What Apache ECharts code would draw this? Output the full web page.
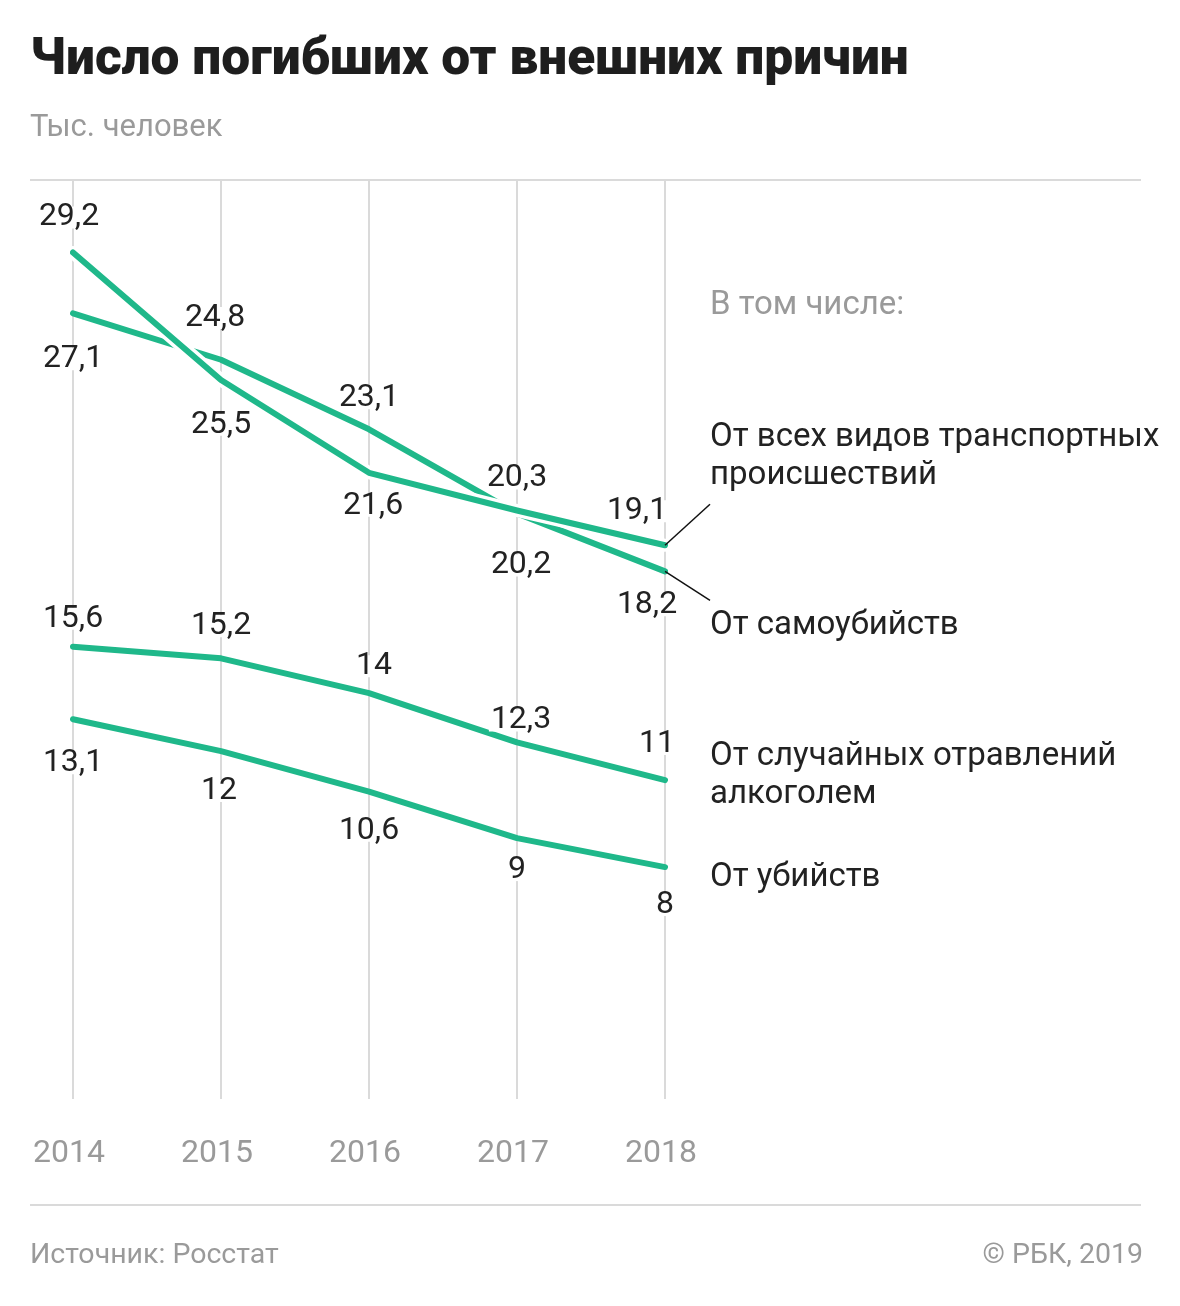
<!DOCTYPE html>
<html><head><meta charset="utf-8">
<script src="https://cdn.jsdelivr.net/npm/echarts@6/dist/echarts.min.js"></script>
<style>html,body{margin:0;padding:0;background:#fff}#c{width:1180px;height:1306px}</style>
</head><body><div id="c"></div>
<script>
// ---- data ----
const years = ['2014', '2015', '2016', '2017', '2018'];
const transport = [29.2, 24.8, 21.6, 20.3, 19.1];
const suicide = [27.1, 25.5, 23.1, 20.2, 18.2];
const alcohol = [15.6, 15.2, 14, 12.3, 11];
const murders = [13.1, 12, 10.6, 9, 8];

// ---- layout: label offsets (label centre relative to point) ----
const offTransport = [[-4, -35], [-6, -62], [4, 33], [0, -32], [-28, -34]];
const offSuicide = [[0, 46], [0, 65], [0, -31], [4, 52], [-18, 34]];
const offAlcohol = [[0, -28], [0, -32], [5, -27], [4, -22], [-8, -36]];
const offMurders = [[0, 44], [-2, 40], [0, 39], [0, 32], [0, 38]];
const leaderOffsets = [[45, -41], [45, 29]];

const GREEN = '#1fb88a';
const FONT = 'Roboto, "Noto Sans", sans-serif';
const fmt = v => String(v).replace('.', ',');

function lineSeries(name, values, offs, z) {
  return {
    name, type: 'line', z,
    data: values.map((v, i) => ({
      value: v,
      label: { offset: offs[i] }
    })),
    symbol: 'circle', symbolSize: 0.01,
    itemStyle: { color: GREEN },
    lineStyle: { color: GREEN, width: 6, cap: 'round', join: 'round' },
    label: {
      show: true, position: 'inside',
      formatter: p => fmt(p.value),
      fontFamily: FONT, fontSize: 32, color: '#222', lineHeight: 22,
      backgroundColor: '#fff', padding: [0, 2],
      align: 'center', verticalAlign: 'middle'
    },
    emphasis: { disabled: true },
    animation: false
  };
}

const chart = echarts.init(document.getElementById('c'), null, { renderer: 'canvas' });

const option = {
  backgroundColor: '#fff',
  animation: false,
  grid: { left: 73, right: 515, top: 180, bottom: 207 },
  xAxis: {
    type: 'category', data: years, boundaryGap: false,
    axisLine: { show: false }, axisTick: { show: false },
    splitLine: { show: true, lineStyle: { color: '#dadada', width: 2 } },
    axisLabel: { color: '#9a9a9a', fontSize: 32, fontFamily: FONT, margin: 39, padding: [0, 8, 0, 0] }
  },
  yAxis: { type: 'value', min: 0, max: 31.7, show: false, splitLine: { show: false } },
  series: [
    lineSeries('От самоубийств', suicide, offSuicide, 2),
    {
      name: 'halo', type: 'line', z: 3, data: transport, symbol: 'none',
      lineStyle: { color: '#fff', width: 13, cap: 'round', join: 'round' },
      silent: true, animation: false
    },
    lineSeries('От всех видов транспортных происшествий', transport, offTransport, 4),
    lineSeries('От случайных отравлений алкоголем', alcohol, offAlcohol, 4),
    lineSeries('От убийств', murders, offMurders, 4),
    {
      name: 'leaders', type: 'custom', z: 5, silent: true, animation: false,
      data: [[4, transport[4], 0], [4, suicide[4], 1]],
      renderItem: (params, api) => {
        const p = api.coord([api.value(0), api.value(1)]);
        const o = leaderOffsets[api.value(2)];
        return {
          type: 'line',
          shape: { x1: p[0], y1: p[1], x2: p[0] + o[0], y2: p[1] + o[1] },
          style: { stroke: '#111', lineWidth: 1.5 }
        };
      }
    }
  ],
  graphic: [
    { type: 'text', left: 30, top: 35, style: { text: 'Число погибших от внешних причин', font: '900 51.5px ' + FONT, fill: '#1e1e1e' } },
    { type: 'text', left: 30, top: 113, style: { text: 'Тыс. человек', font: '31px ' + FONT, fill: '#9a9a9a' } },
    { type: 'line', shape: { x1: 30, y1: 180, x2: 1141, y2: 180 }, style: { stroke: '#dadada', lineWidth: 2 } },
    { type: 'line', shape: { x1: 30, y1: 1205, x2: 1141, y2: 1205 }, style: { stroke: '#dadada', lineWidth: 2 } },
    { type: 'text', left: 710, top: 289, style: { text: 'В том числе:', font: '33px ' + FONT, fill: '#9a9a9a' } },
    { type: 'text', left: 710, top: 419, style: { text: 'От всех видов транспортных\nпроисшествий', font: '33px ' + FONT, fill: '#222', lineHeight: 38 } },
    { type: 'text', left: 710, top: 609, style: { text: 'От самоубийств', font: '33px ' + FONT, fill: '#222' } },
    { type: 'text', left: 710, top: 738, style: { text: 'От случайных отравлений\nалкоголем', font: '33px ' + FONT, fill: '#222', lineHeight: 38 } },
    { type: 'text', left: 710, top: 861, style: { text: 'От убийств', font: '33px ' + FONT, fill: '#222' } },
    { type: 'text', left: 30, top: 1241, style: { text: 'Источник: Росстат', font: '28.5px ' + FONT, fill: '#9a9a9a' } },
    { type: 'text', right: 37, top: 1241, style: { text: '© РБК, 2019', font: '28.5px ' + FONT, fill: '#9a9a9a' } }
  ]
};
chart.setOption(option);
</script>
</body></html>
